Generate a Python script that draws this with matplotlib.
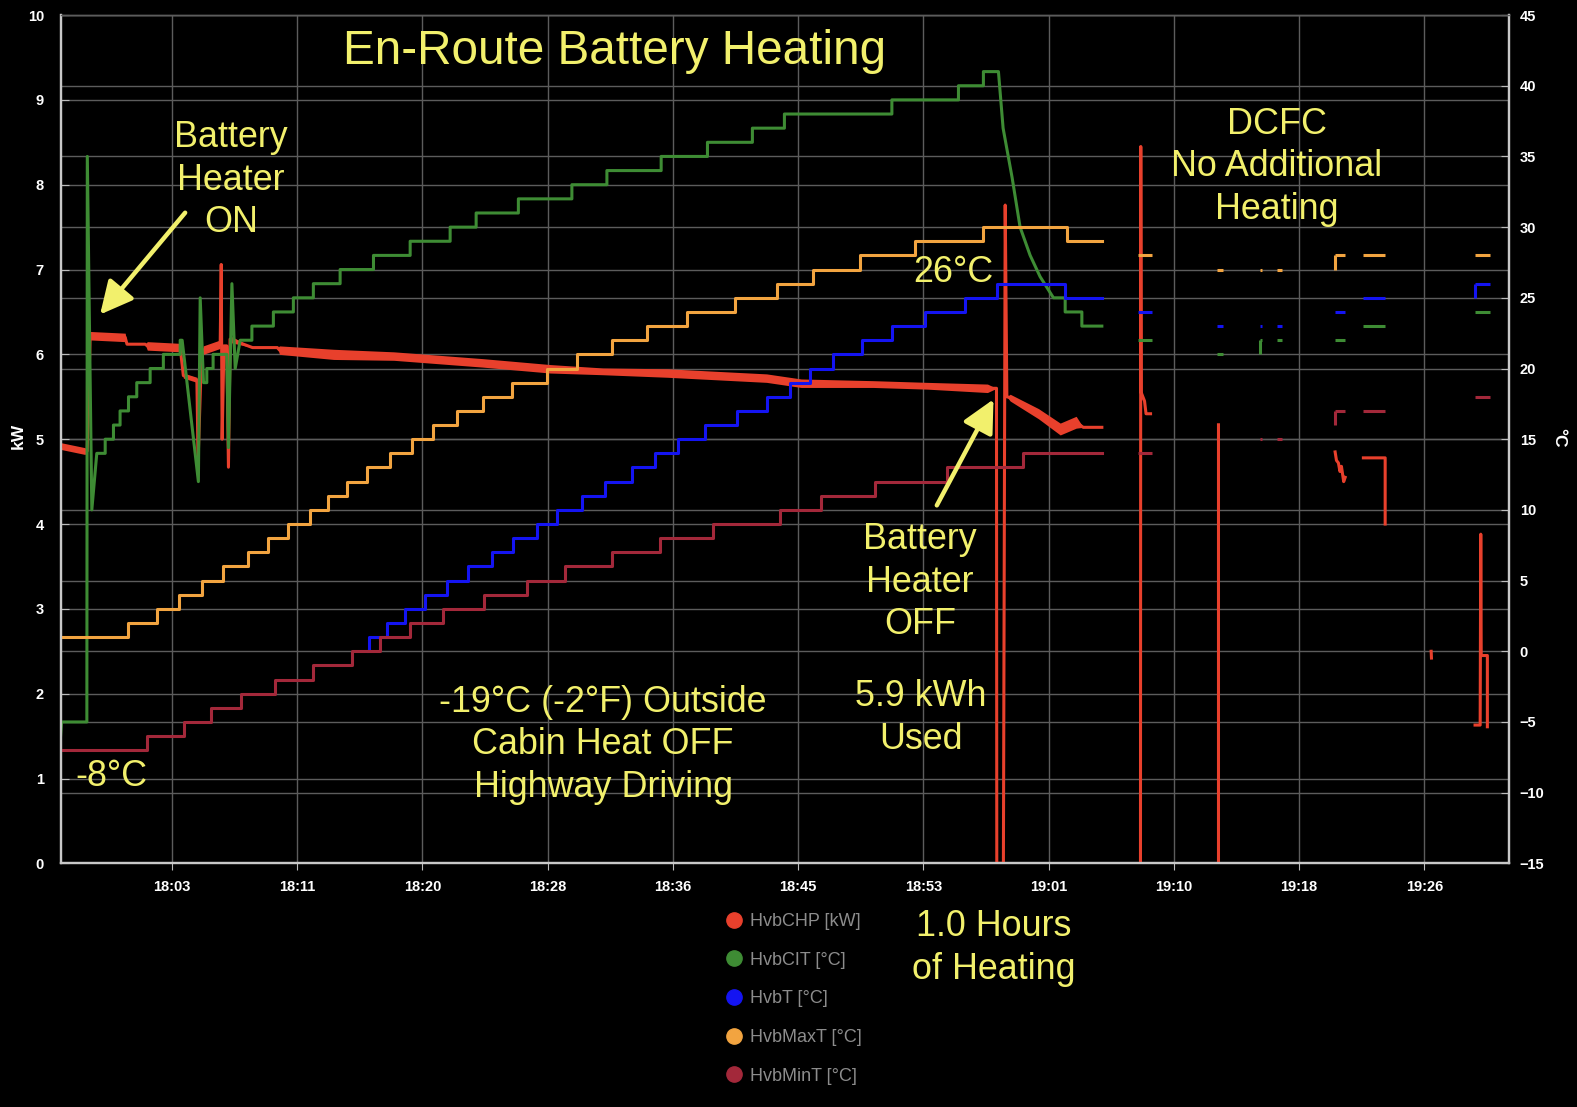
import numpy as np
import matplotlib.pyplot as plt
from matplotlib.lines import Line2D
from matplotlib.transforms import blended_transform_factory

plt.rcParams['font.family'] = ['Liberation Sans', 'DejaVu Sans']

# time is in minutes after 18:00
tick_minutes = [3.33, 11.67, 20.0, 28.33, 36.67, 45.0, 53.33, 61.67, 70.0, 78.33, 86.67]
tick_labels = ['18:03', '18:11', '18:20', '18:28', '18:36', '18:45', '18:53',
               '19:01', '19:10', '19:18', '19:26']

# HvbCHP [kW] - main drive, with the rough width of the noise around it
chp_t = [-4.07, -2.44, -2.30, -2.10, 0.23, 0.35, 1.56, 1.70, 3.89, 4.10, 5.00, 5.08,
         5.30, 5.42, 6.55, 6.62, 6.68, 6.80, 6.99, 7.10, 7.21, 8.70, 10.35, 10.50,
         14.10, 18.10, 24.00, 28.50, 32.00, 36.30, 42.90, 45.20, 50.00, 53.60,
         57.60, 58.20, 58.22, 58.66, 58.78, 58.89, 59.11, 61.00, 62.44, 63.50,
         63.97, 65.21]
chp_kw = [4.92, 4.86, 4.86, 6.22, 6.20, 6.12, 6.12, 6.10, 6.08, 5.75, 5.70, 4.75,
          5.95, 6.05, 6.12, 7.06, 5.00, 6.10, 6.10, 4.67, 6.18, 6.08, 6.08, 6.05,
          6.00, 5.98, 5.90, 5.83, 5.80, 5.78, 5.72, 5.66, 5.65, 5.63,
          5.60, 5.60, 0.0, 0.0, 7.76, 5.50, 5.49, 5.30, 5.12, 5.20,
          5.14, 5.14]
chp_noise = [0.04, 0.04, 0, 0.05, 0.05, 0, 0, 0.05, 0.05, 0.03, 0.03, 0,
             0, 0.05, 0.05, 0, 0, 0, 0, 0, 0.04, 0, 0, 0.05,
             0.06, 0.05, 0.05, 0.05, 0.04, 0.05, 0.05, 0.05, 0.04, 0.04,
             0.05, 0, 0, 0, 0, 0, 0.04, 0.06, 0.07, 0.07,
             0, 0]

# HvbCHP [kW] - while at the charger
dcfc_chp_t = [67.78, 67.80, 67.83, 68.05, 68.15, 68.45, np.nan,
              72.97, 72.97, np.nan,
              80.73, 80.82, 80.95, 81.05, 81.15, 81.30, 81.40, np.nan,
              82.61, 84.06, 84.06, np.nan,
              87.12, 87.14, np.nan,
              90.04, 90.38, 90.42, 90.45, 90.86, 90.86]
dcfc_chp_kw = [0.0, 8.45, 5.55, 5.45, 5.30, 5.30, np.nan,
               0.0, 5.17, np.nan,
               4.85, 4.75, 4.72, 4.62, 4.68, 4.50, 4.55, np.nan,
               4.78, 4.78, 4.00, np.nan,
               2.50, 2.42, np.nan,
               1.63, 1.63, 3.88, 2.45, 2.45, 1.61]

# HvbCIT [°C]
cit_t = [-4.07, -4.00, -2.32, -2.29, -1.99, -1.66, -1.10, -1.10, -0.55, -0.55, -0.11,
         -0.11, 0.45, 0.45, 1.00, 1.00, 1.89, 1.89, 2.77, 2.77, 3.89, 3.89, 4.02,
         5.10, 5.22, 5.44, 5.66, 5.66, 6.08, 6.08, 6.99, 7.10, 7.33, 7.55, 7.88,
         8.66, 8.66, 10.09, 10.09, 11.42, 11.42, 12.75, 12.75, 14.53, 14.53,
         16.75, 16.75, 19.19, 19.19, 21.85, 21.85, 23.58, 23.58, 26.39, 26.39,
         29.95, 29.95, 32.28, 32.28, 35.89, 35.89, 38.97, 38.97, 41.96, 41.96,
         44.09, 44.09, 51.24, 51.24, 55.67, 55.67, 57.33, 57.33, 58.33, 58.64,
         59.24, 59.77, 60.44, 61.10, 61.99, 62.77, 62.77, 63.88, 63.88, 65.21]
cit_c = [-6, -5, -5, 35, 10, 14, 14, 15, 15, 16, 16,
         17, 17, 18, 18, 19, 19, 20, 20, 21, 21, 22, 22,
         12, 25, 19, 19, 20, 20, 21, 21, 14.4, 26, 20, 22,
         22, 23, 23, 24, 24, 25, 25, 26, 26, 27,
         27, 28, 28, 29, 29, 30, 30, 31, 31, 32,
         32, 33, 33, 34, 34, 35, 35, 36, 36, 37,
         37, 38, 38, 39, 39, 40, 40, 41, 41, 37,
         33.5, 30, 28, 26.5, 25, 25, 24, 24, 23, 23]

# HvbT [°C] (step changes)
hvbt_t = [16.39, 16.42, 17.64, 18.86, 20.19, 21.63, 23.05, 24.62, 26.04, 27.62,
          28.97, 30.61, 32.16, 33.94, 35.49, 37.02, 38.82, 40.93, 42.92, 44.47,
          45.80, 47.35, 49.24, 51.24, 53.45, 56.11, 58.22, 62.77, 65.21]
hvbt_c = [0, 1, 2, 3, 4, 5, 6, 7, 8, 9,
          10, 11, 12, 13, 14, 15, 16, 17, 18, 19,
          20, 21, 22, 23, 24, 25, 26, 25, 25]

# HvbMaxT [°C]
maxt_t = [-4.07, 0.41, 2.34, 3.84, 5.33, 6.73, 8.41, 9.74, 11.07, 12.53, 13.73,
          15.00, 16.33, 17.86, 19.32, 20.72, 22.31, 24.04, 25.97, 28.30, 30.30,
          32.63, 34.96, 37.62, 40.82, 43.61, 46.00, 49.13, 52.79, 57.32, 62.90, 65.23]
maxt_c = [1, 2, 3, 4, 5, 6, 7, 8, 9, 10, 11,
          12, 13, 14, 15, 16, 17, 18, 19, 20, 21,
          22, 23, 24, 25, 26, 27, 28, 29, 30, 29, 29]

# HvbMinT [°C]
mint_t = [-4.07, 1.67, 4.11, 5.93, 7.92, 10.21, 12.75, 15.31, 17.19, 19.19, 21.36,
          24.07, 26.95, 29.50, 32.61, 35.82, 39.37, 43.80, 46.51, 50.13, 54.89,
          59.99, 65.21]
mint_c = [-7, -6, -5, -4, -3, -2, -1, 0, 1, 2, 3,
          4, 5, 6, 7, 8, 9, 10, 11, 12, 13,
          14, 14]

# short readings while charging (start, end, value, value just before a jump)
dcfc_t0 = [67.64, 72.86, 75.74, 76.85, 80.73, 82.61, 90.04]
dcfc_t1 = [68.53, 73.30, 75.84, 77.19, 81.40, 84.06, 91.04]
dcfc_cit = [22, 21, 22, 22, 22, 23, 24]
dcfc_cit_from = [np.nan, np.nan, 21, np.nan, np.nan, np.nan, np.nan]
dcfc_hvbt = [24, 23, 23, 23, 24, 25, 26]
dcfc_hvbt_from = [np.nan, np.nan, np.nan, np.nan, np.nan, np.nan, 25]
dcfc_maxt = [28, 27, 27, 27, 28, 28, 28]
dcfc_maxt_from = [np.nan, np.nan, np.nan, np.nan, 27, np.nan, np.nan]
dcfc_mint = [14, np.nan, 15, 15, 17, 17, 18]
dcfc_mint_from = [np.nan, np.nan, np.nan, np.nan, 16, np.nan, np.nan]

c_chp = '#e8402c'
c_cit = '#3e8c34'
c_t = '#1414f2'
c_max = '#f2a440'
c_min = '#a3283a'
yellow = '#f2f06c'
grid_c = '#5c5c5c'

fig = plt.figure(figsize=(15.77, 11.07), dpi=100, facecolor='black')
ax = fig.add_axes([0.0384, 0.2201, 0.9183, 0.7663])
ax.set_facecolor('black')
ax2 = ax.twinx()

ax.set_xlim(-4.07, 92.28)
ax.set_ylim(0, 10)
ax2.set_ylim(-15, 45)

# grid, all drawn on the lower axes so the data sits on top
for x in tick_minutes:
    ax.axvline(x, color=grid_c, lw=1, zorder=0)
for y in range(0, 11):
    ax.axhline(y, color=grid_c, lw=1, zorder=0)
tr = blended_transform_factory(ax.transAxes, ax2.transData)
for y in range(-15, 46, 5):
    ax.plot([0, 1], [y, y], transform=tr, color=grid_c, lw=1, zorder=0)

# power
lo = np.array(chp_kw) - np.array(chp_noise)
hi = np.array(chp_kw) + np.array(chp_noise)
ax.fill_between(chp_t, lo, hi, color=c_chp, lw=0, zorder=2)
ax.plot(chp_t, chp_kw, color=c_chp, lw=2.2, zorder=3)
ax.plot(dcfc_chp_t, dcfc_chp_kw, color=c_chp, lw=2.2, zorder=3)

# temperatures
ax2.plot(cit_t, cit_c, color=c_cit, lw=2.2)
ax2.step(hvbt_t, hvbt_c, where='post', color=c_t, lw=2.2)
ax2.step(maxt_t, maxt_c, where='post', color=c_max, lw=2.2)
ax2.step(mint_t, mint_c, where='post', color=c_min, lw=2.2)

for vals, frm, col in [(dcfc_cit, dcfc_cit_from, c_cit), (dcfc_hvbt, dcfc_hvbt_from, c_t),
                       (dcfc_maxt, dcfc_maxt_from, c_max), (dcfc_mint, dcfc_mint_from, c_min)]:
    ax2.hlines(vals, dcfc_t0, dcfc_t1, color=col, lw=2.2)
    ax2.vlines(dcfc_t0, frm, vals, color=col, lw=2.2)

# axes styling
ax.set_xticks(tick_minutes)
ax.set_xticklabels(tick_labels)
ax.set_yticks(range(0, 11))
ax2.set_yticks(range(-15, 46, 5))
ax.tick_params(axis='x', direction='out', length=5, color='#bbbbbb', pad=7,
               labelcolor='white', labelsize=10.5)
ax.tick_params(axis='y', direction='in', length=6, color='#bbbbbb', pad=12,
               labelcolor='white', labelsize=10.5)
ax2.tick_params(axis='y', direction='in', length=6, color='#bbbbbb', pad=8,
                labelcolor='white', labelsize=10.5)
for lab in ax.get_xticklabels() + ax.get_yticklabels() + ax2.get_yticklabels():
    lab.set_fontweight('bold')
for a in (ax, ax2):
    for side in ('left', 'bottom', 'right'):
        a.spines[side].set_color('#c8c8c8')
        a.spines[side].set_linewidth(1.6)
    a.spines['top'].set_color(grid_c)
    a.spines['top'].set_linewidth(1)

fig.text(18 / 1577, 1 - 436 / 1107, 'kW', rotation=90, color='white', fontsize=12.5,
         fontweight='bold', ha='center', va='center')
fig.text(1559 / 1577, 1 - 438 / 1107, '°C', rotation=270, color='white', fontsize=12.5,
         fontweight='bold', ha='center', va='center')

# annotations
def label(x, y, s):
    fig.text(x / 1577, 1 - y / 1107, s, color=yellow, fontsize=25.8,
             ha='center', va='center', linespacing=1.26)

fig.text(615 / 1577, 1 - 52 / 1107, 'En-Route Battery Heating', color=yellow,
         fontsize=34.4, ha='center', va='center')
label(231, 180, 'Battery\nHeater\nON')
label(111, 777, '-8°C')
label(603, 745, '-19°C (-2°F) Outside\nCabin Heat OFF\nHighway Driving')
label(953, 273, '26°C')
label(920, 582, 'Battery\nHeater\nOFF')
label(921, 718, '5.9 kWh\nUsed')
label(1277, 167, 'DCFC\nNo Additional\nHeating')
label(994, 948, '1.0 Hours\nof Heating')

arrow = dict(arrowstyle='-|>,head_length=0.9,head_width=0.45', color=yellow, lw=3.2,
             mutation_scale=22, shrinkA=0, shrinkB=0)
ax2.annotate('', xy=(-1.44, 6.47), xycoords=ax.transData, xytext=(4.22, 7.67),
             textcoords=ax.transData, arrowprops=arrow)
ax2.annotate('', xy=(58.0, 5.47), xycoords=ax.transData, xytext=(54.23, 4.22),
             textcoords=ax.transData, arrowprops=arrow)

handles = [Line2D([], [], ls='', marker='o', markersize=11, color=c)
           for c in (c_chp, c_cit, c_t, c_max, c_min)]
names = ['HvbCHP [kW]', 'HvbCIT [°C]', 'HvbT [°C]', 'HvbMaxT [°C]', 'HvbMinT [°C]']
fig.legend(handles, names, loc='upper left', bbox_to_anchor=(725 / 1577, 1 - 913 / 1107),
           frameon=False, fontsize=13, labelcolor='#8c8c8c', handlelength=1.0,
           handletextpad=0.4, labelspacing=1.2, borderpad=0, borderaxespad=0)

fig.savefig('out.png', dpi=100, facecolor='black')
